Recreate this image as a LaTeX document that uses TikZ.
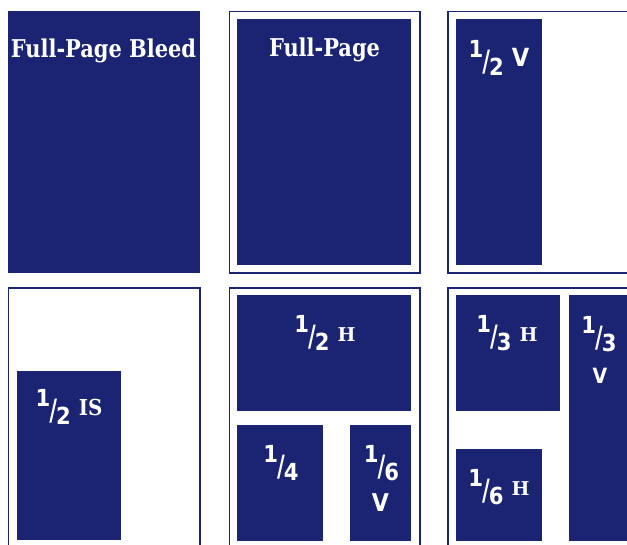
\documentclass[tikz,border=0pt]{standalone}
\usepackage{fontspec}
\newfontfamily\serf{DejaVu Serif Condensed Bold}
\newfontfamily\serfW{DejaVu Serif Bold}
\newfontfamily\serfT{DejaVu Serif Condensed Bold}[FakeStretch=0.95]
\newfontfamily\sanf{DejaVu Sans Condensed Bold}
\definecolor{navy}{RGB}{27,36,115}
\newcommand\fr[2]{{\sanf\fontsize{23.5}{23.5}\selectfont\raisebox{8.5pt}{#1}\kern-1pt\raisebox{-5pt}{\scalebox{1}[1.25]{/}}\kern-1pt\raisebox{-9pt}{#2}}}
\newcommand\gp{\hspace{8pt}}
\newcommand\hh{{\serfW\fontsize{19}{19}\selectfont H}}
\tikzset{
  frame/.style={draw=navy, line width=1.5pt},
  blk/.style={fill=navy},
  lbl/.style={text=white, anchor=base, inner sep=0pt},
  big/.style={font=\serfT\fontsize{24.5}{24.5}\selectfont},
}
\begin{document}
\begin{tikzpicture}[x=1pt,y=-1pt]
\useasboundingbox (0,0) rectangle (627,544);
\begin{scope}
\clip (0,0) rectangle (627,544);
% top row
\fill[blk] (8,11) rectangle (200,273);
\draw[frame] (229.5,11.5) rectangle (420,273);
\fill[blk] (237,19) rectangle (411,265);
\draw[frame] (448,11.5) rectangle (660,273);
\fill[blk] (456,19) rectangle (542,265);
% bottom row
\draw[frame] (8.5,288) rectangle (200,570);
\fill[blk] (17,371) rectangle (121,540);
\draw[frame] (229.5,288) rectangle (420,570);
\fill[blk] (237,295) rectangle (411,411);
\fill[blk] (237,425) rectangle (323,541);
\fill[blk] (350,425) rectangle (411,541);
\draw[frame] (448,288) rectangle (660,570);
\fill[blk] (456,295) rectangle (560,411);
\fill[blk] (456,449) rectangle (542,541);
\fill[blk] (569,295) rectangle (660,541);
\end{scope}
% labels
\node[lbl,big] (tbleed) at (103.5,57) {Full-Page Bleed};
\node[lbl,big] (tfull) at (324.5,56) {Full-Page};
\node[lbl] (thv) at (499,66) {\fr12\gp{\sanf\fontsize{25}{25}\selectfont V}};
\node[lbl] (this) at (69,415) {\fr12\gp{\serf\fontsize{22}{22}\selectfont IS}};
\node[lbl] (thh) at (325,341) {\fr12\gp\hh};
\node[lbl] (tq) at (281,471) {\fr14};
\node[lbl] (tsv) at (381.5,471) {\fr16};
\node[lbl,font=\sanf\fontsize{24.5}{24.5}\selectfont] (tsvv) at (380.5,511) {V};
\node[lbl] (tth) at (507,341) {\fr13\gp\hh};
\node[lbl] (ttv) at (599,342) {\fr13};
\node[lbl,font=\sanf\fontsize{21}{21}\selectfont] (ttvv) at (600,383) {V};
\node[lbl] (tsh) at (499,495) {\fr16\gp\hh};
\end{tikzpicture}
\end{document}
